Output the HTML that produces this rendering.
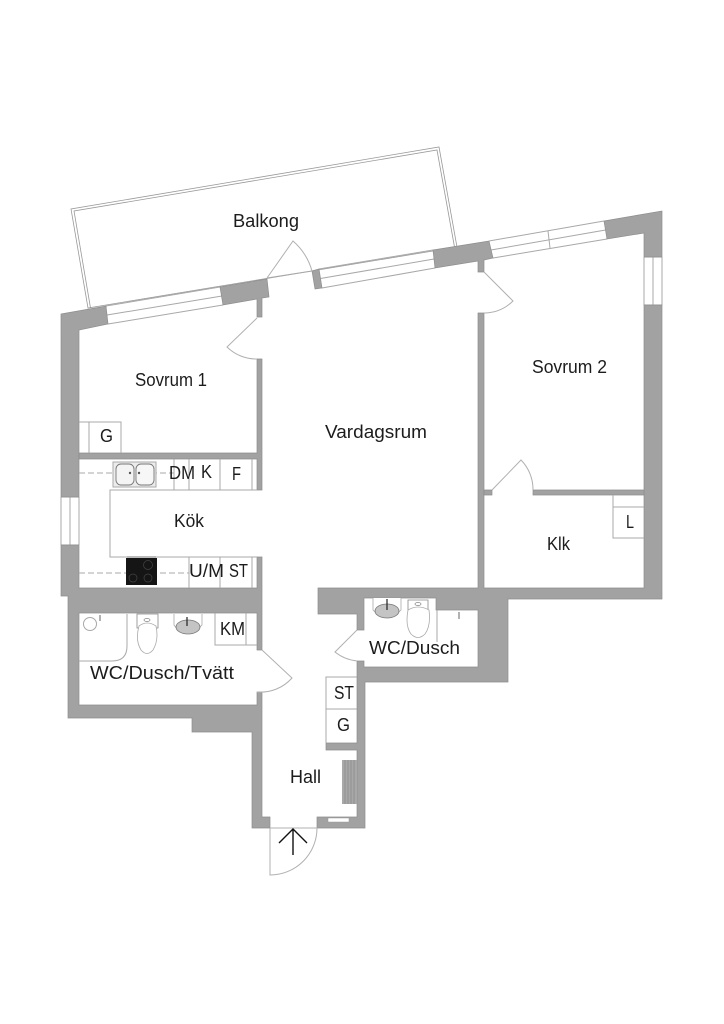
<!DOCTYPE html>
<html><head><meta charset="utf-8"><style>
html,body{margin:0;padding:0;background:#fff}
svg{display:block}
text{font-family:"Liberation Sans",sans-serif;font-size:18px;fill:#1c1c1c}
.l{fill:none;stroke:#a8a8a8;stroke-width:1}
.d{fill:none;stroke:#b0b0b0;stroke-width:1}
.f{fill:none;stroke:#999;stroke-width:.8}
</style></head><body>
<svg width="724" height="1024" viewBox="0 0 724 1024" xmlns="http://www.w3.org/2000/svg">
<rect width="724" height="1024" fill="#fff"/>
<!-- balcony -->
<polygon class="f" points="88,308 71,209 439,147 457,247"/>
<polyline class="f" points="90.500,308 74,211 437,150 454.500,247"/>
<!-- windows -->
<g class="l">
<polyline points="106,306 220,287"/><polyline points="107,315 222,296"/><polyline points="108,324 223,305"/>
<line x1="267" y1="278" x2="312" y2="271"/>
<polyline points="319,269 433,250"/><polyline points="320.500,278.500 434,259"/><polyline points="322,288 435,268"/>
<polyline points="489,241 604,221"/><polyline points="491,250 605.500,230"/><polyline points="493,258 607,239"/>
<line x1="548" y1="231" x2="550" y2="248"/>
<path d="M644 257H662M644 305H662M653 257V305M644 257V305M662 257V305"/>
<path d="M61 497H79M61 545H79M70 497V545M61 497V545M79 497V545"/>
</g>
<!-- walls -->
<g fill="#a2a2a2" stroke="#8e8e8e" stroke-width=".7" stroke-linejoin="miter">
<polygon points="61,314 106,306 108,324 79,330 79,497 61,497"/>
<polygon points="61,545 79,545 79,588 257,588 257,557 262,557 262,650 257,650 257,613 79,613 79,705 257,705 257,692 262,692 262,817 270,817 270,828 252,828 252,732 192,732 192,718 68,718 68,596 61,596"/>
<polygon points="220,287 267,279 269,297 262,298 262,317 257,317 257,299 223,305"/>
<polygon points="257,359 262,359 262,490 257,490 257,459 79,459 79,453 257,453"/>
<polygon points="312,271 319,269 322,288 315,289"/>
<polygon points="433,250 489,241 493,258 484,260 484,272 478,272 478,261 435,268"/>
<polygon points="604,221 662,211 662,257 644,257 644,233 607,239"/>
<polygon points="644,305 662,305 662,599 508,599 508,682 365,682 365,828 317,828 317,817 357,817 357,750 326,750 326,743 357,743 357,661 364,661 364,667 478,667 478,610 436,610 436,598 364,598 364,630 357,630 357,614 318,614 318,588 478,588 478,313 484,313 484,588 644,588"/>
<polygon points="533,490 644,490 644,495 533,495"/>
<polygon points="484,490 492,490 492,495 484,495"/>
</g>
<rect x="328" y="818" width="21" height="4" fill="#fff" stroke="#999" stroke-width=".5"/>
<!-- doors -->
<g class="d">
<path d="M267 278L293 241A62 62 0 0 1 312 271"/>
<path d="M257 318L227 347A42 42 0 0 0 257 359"/>
<path d="M484 272L513 301A42 42 0 0 1 484 313"/>
<path d="M492 490L521 460A42 42 0 0 1 533 490"/>
<path d="M262 650L292 678A42 42 0 0 1 257 692"/>
<path d="M357 630L335 652A42 42 0 0 0 357 661"/>
<path d="M270 828V875A47 47 0 0 0 317 828H270"/>
</g>
<path d="M293 855V829M279 843L293 829L307 843" fill="none" stroke="#111" stroke-width="1.4"/>
<!-- kitchen counters -->
<g class="l">
<path d="M257 490H110V557H257"/>
<path d="M174 459V490M189 459V490M220 459V490M252 459V490M189 557V588M220 557V588M252 557V588"/>
<path d="M79 422H121V453M89 422V453"/>
<path d="M613 495V538H644M613 507H644"/>
<path d="M215 613V645H257M246 613V645"/>
<path d="M326 743V677H357M326 709H357"/>
<path d="M127 614V646Q127 661 112 661H79"/>
<circle cx="90" cy="624" r="6.500"/>
<path d="M437 610V642"/>
</g>
<path d="M79 473H174M79 573H189" stroke="#aaa" stroke-width="1" stroke-dasharray="6 3" fill="none"/>
<!-- sink -->
<rect x="113" y="462" width="43" height="25" fill="#ececec" stroke="#aaa" stroke-width="1"/>
<rect x="116" y="464" width="18" height="21" rx="5" fill="#f4f4f4" stroke="#777" stroke-width=".9"/>
<rect x="136" y="464" width="18" height="21" rx="5" fill="#f7f7f7" stroke="#777" stroke-width=".9"/>
<circle cx="130" cy="473" r="1.200" fill="#555"/><circle cx="139" cy="473" r="1.200" fill="#555"/>
<!-- hob -->
<rect x="127" y="556" width="29" height="3" fill="#bbb"/>
<rect x="126" y="558" width="31" height="27" fill="#151515"/>
<g fill="none" stroke="#444" stroke-width=".7"><circle cx="148" cy="565" r="4.500"/><circle cx="133" cy="578" r="4"/><circle cx="148" cy="578" r="4"/></g>
<!-- radiator -->
<rect x="342" y="760" width="15" height="44" fill="#a8a8a8"/>
<path d="M345 760V804M348 760V804M351 760V804M354 760V804" stroke="#8a8a8a" stroke-width=".8"/>
<!-- WC 1 -->
<g fill="#fff" stroke="#888" stroke-width=".8">
<path d="M137 614H158V628H137Z"/><path d="M139 626Q147 620 156 626Q159 640 153 650Q147 657 141 650Q135 640 139 626Z" stroke="#aaa"/>
<path d="M174 614V625Q186 642 202 625V614" stroke="#aaa"/>
<ellipse cx="188" cy="627" rx="12" ry="7" fill="#c4c4c4" stroke="#777"/>
<path d="M373 598V610Q387 625 401 610V598" stroke="#aaa"/>
<ellipse cx="387" cy="611" rx="12" ry="7" fill="#c4c4c4" stroke="#777"/>
<path d="M408 600H428V613H408Z"/><path d="M408 610Q418 604 429 610Q431 626 425 634Q418 641 411 634Q405 626 408 610Z" stroke="#aaa"/>
<ellipse cx="147" cy="620" rx="3" ry="1.500"/><ellipse cx="418" cy="604" rx="3" ry="1.500"/>
</g>
<path d="M187 617V626M387 599V610" stroke="#222" stroke-width="1.200"/>
<path d="M100 615V621M459 612V619" stroke="#999" stroke-width="1.500"/>
<!-- labels -->
<text x="233" y="227" textLength="66" lengthAdjust="spacingAndGlyphs">Balkong</text>
<text x="135" y="386" textLength="72" lengthAdjust="spacingAndGlyphs">Sovrum 1</text>
<text x="325" y="438" textLength="102" lengthAdjust="spacingAndGlyphs">Vardagsrum</text>
<text x="532" y="373" textLength="75" lengthAdjust="spacingAndGlyphs">Sovrum 2</text>
<text x="174" y="527" textLength="30" lengthAdjust="spacingAndGlyphs">Kök</text>
<text x="169" y="479" textLength="26" lengthAdjust="spacingAndGlyphs">DM</text>
<text x="201" y="478" textLength="11" lengthAdjust="spacingAndGlyphs">K</text>
<text x="232" y="480" textLength="9" lengthAdjust="spacingAndGlyphs">F</text>
<text x="100" y="442" textLength="13" lengthAdjust="spacingAndGlyphs">G</text>
<text x="189" y="577" textLength="35" lengthAdjust="spacingAndGlyphs">U/M</text>
<text x="229" y="577" textLength="19" lengthAdjust="spacingAndGlyphs">ST</text>
<text x="220" y="635" textLength="25" lengthAdjust="spacingAndGlyphs">KM</text>
<text x="90" y="679" textLength="144" lengthAdjust="spacingAndGlyphs">WC/Dusch/Tvätt</text>
<text x="369" y="654" textLength="91" lengthAdjust="spacingAndGlyphs">WC/Dusch</text>
<text x="334" y="699" textLength="20" lengthAdjust="spacingAndGlyphs">ST</text>
<text x="337" y="731" textLength="13" lengthAdjust="spacingAndGlyphs">G</text>
<text x="290" y="783" textLength="31" lengthAdjust="spacingAndGlyphs">Hall</text>
<text x="547" y="550" textLength="23" lengthAdjust="spacingAndGlyphs">Klk</text>
<text x="626" y="528" textLength="8" lengthAdjust="spacingAndGlyphs">L</text>
</svg>
</body></html>
